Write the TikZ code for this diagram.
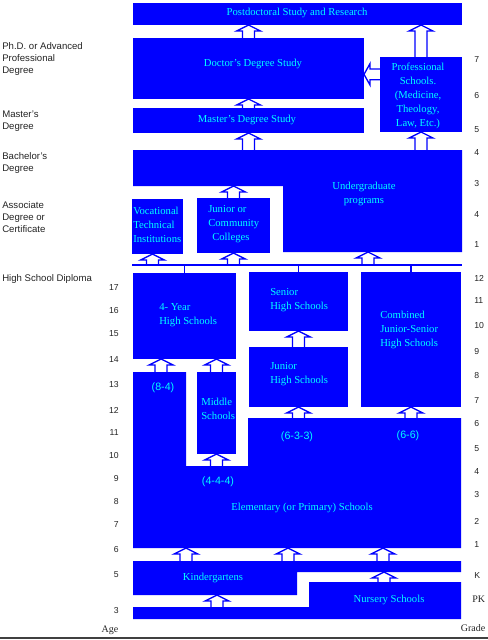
\documentclass[tikz,border=0pt]{standalone}
\usepackage{fontspec}
\setmainfont{Liberation Serif}
\setsansfont{Liberation Sans}
\usepackage{tikz}
\usetikzlibrary{positioning,calc,fit}
\definecolor{schoolblue}{RGB}{0,0,255}
\definecolor{schoolcyan}{RGB}{0,255,255}
\definecolor{axisgray}{RGB}{35,35,35}
\definecolor{rulegray}{RGB}{64,64,64}

\begin{document}
\begin{tikzpicture}[x=0.75pt,y=-0.75pt,
  blk/.style={fill=schoolblue,inner sep=0pt,outer sep=0pt},
  blktext/.style={text=schoolcyan,font=\fontsize{8}{10.4}\selectfont,align=center,inner sep=0pt},
  blknote/.style={text=schoolcyan,font=\sffamily\fontsize{8}{10}\selectfont,inner sep=0pt},
  sidetext/.style={text=axisgray,font=\sffamily\fontsize{7.2}{9}\selectfont,align=left,anchor=west,inner sep=0pt},
  agetext/.style={text=axisgray,font=\sffamily\fontsize{6.5}{8}\selectfont,anchor=east,inner sep=0pt},
  gradetext/.style={agetext,anchor=west},
  axistitle/.style={text=axisgray,font=\fontsize{7.5}{9}\selectfont,inner sep=0pt},
  treeline/.style={draw=schoolblue,line width=1pt},
  blkarrow/.style={draw=schoolblue,line width=1pt,
    to path={let \p1=(\tikztostart),\p2=(\tikztotarget) in
      (\x1-4.5pt,\y1) -- (\x1-4.5pt,\y2-4.5pt) -- (\x1-9pt,\y2-4.5pt) -- (\x1,\y2)
      -- (\x1+9pt,\y2-4.5pt) -- (\x1+4.5pt,\y2-4.5pt) -- (\x1+4.5pt,\y1)}},
  blkarrowleft/.style={draw=schoolblue,line width=1pt,
    to path={let \p1=(\tikztostart),\p2=(\tikztotarget) in
      (\x1,\y1+4pt) -- (\x2+4.5pt,\y1+4pt) -- (\x2+4.5pt,\y1+8pt) -- (\x2,\y1)
      -- (\x2+4.5pt,\y1-8pt) -- (\x2+4.5pt,\y1-4pt) -- (\x1,\y1-4pt)}}
]
\useasboundingbox (0,0) rectangle (488,640);

% graduate level
\node[blk,fit={(133,3) (462,25)}] (postdoc) {};
\node[blktext] (postdoc-t) at (297,13) {Postdoctoral Study and Research};
\node[blk,fit={(133,38) (364,99)}] (doctor) {};
\node[blktext] (doctor-t) at (253,64) {Doctor's Degree Study};
\node[blk,fit={(133,108) (364,133)}] (master) {};
\node[blktext] (master-t) at (247,120) {Master's Degree Study};
\node[blk,fit={(380,57) (462,132)}] (prof) {};
\node[blktext] (prof-t) at (418,96) {Professional\\Schools.\\(Medicine,\\Theology,\\Law, Etc.)};

% undergraduate level
\fill[schoolblue] (133,150) -- (462,150) -- (462,252) -- (283,252) -- (283,186) -- (133,186) -- cycle;
\coordinate (ug-nw) at (133,150);
\coordinate (ug-sw) at (133,186);
\coordinate (ug-in) at (368,252);
\node[blktext] (ug-t) at (364,194) {Undergraduate\\programs};
\node[blk,fit={(132,199) (183,254)}] (voc) {};
\node[blktext,align=left,anchor=west] (voc-t) at (133,225) {Vocational\\Technical\\Institutions};
\node[blk,fit={(197,198) (270,253)}] (jc) {};
\node[blktext,align=left,anchor=west] (jc-t) at (208,224) {Junior or\\Community\\\hspace{3pt}Colleges};

% secondary level
\coordinate (tree-w) at (132,265);
\coordinate (tree-e) at (462,265);
\draw[treeline] (tree-w) -- (tree-e);
\node[blk,fit={(133,273) (236,359)}] (fouryr) {};
\node[blktext,align=left,anchor=west] (fouryr-t) at (159,315) {4- Year\\High Schools};
\node[blk,fit={(249,272) (348,331)}] (shs) {};
\node[blktext,align=left,anchor=west] (shs-t) at (270,300) {Senior\\High Schools};
\node[blk,fit={(361,272) (461,407)}] (comb) {};
\node[blktext,align=left,anchor=west] (comb-t) at (380,330) {Combined\\Junior-Senior\\High Schools};
\node[blk,fit={(249,347) (348,407)}] (jhs) {};
\node[blktext,align=left,anchor=west] (jhs-t) at (270,374) {Junior\\High Schools};
\node[blk,fit={(197,372) (236,454)}] (middle) {};
\node[blktext,align=left,anchor=west] (middle-t) at (201,409) {Middle\\Schools};

% elementary level
\fill[schoolblue] (133,372) -- (186,372) -- (186,466) -- (248,466) -- (248,418) -- (461,418) -- (461,548) -- (133,548) -- cycle;
\coordinate (elem-nw) at (133,372);
\coordinate (elem-mid) at (248,418);
\coordinate (elem-notch) at (186,466);
\coordinate (elem-sw) at (133,548);
\node[blknote] (plan84) at (163,388) {(8-4)};
\node[blknote] (plan444) at (218,482) {(4-4-4)};
\node[blknote] (plan633) at (297,437) {(6-3-3)};
\node[blknote] (plan66) at (408,436) {(6-6)};
\node[blktext] (elem-t) at (302,508) {Elementary (or Primary) Schools};

% preprimary level
\fill[schoolblue] (133,561) -- (461,561) -- (461,572) -- (297,572) -- (297,595) -- (133,595) -- cycle;
\coordinate (kg-nw) at (133,561);
\coordinate (kg-step) at (297,572);
\coordinate (kg-sw) at (133,595);
\node[blktext] (kg-t) at (213,578) {Kindergartens};
\fill[schoolblue] (309,582) -- (461,582) -- (461,619) -- (133,619) -- (133,607) -- (309,607) -- cycle;
\coordinate (nur-nw) at (309,582);
\coordinate (nur-bar) at (133,607);
\node[blktext] (nur-t) at (389,600) {Nursery Schools};

% arrows
\draw[blkarrow] (doctor.north) to (doctor.north |- postdoc.south);
\draw[blkarrow] (master.north) to (doctor.south);
\draw[blkarrow] (master.south |- ug-nw) to (master.south);
\draw[blkarrow] (prof.south |- ug-nw) to (prof.south);
\draw[blkarrow] (prof.north) to (prof.north |- postdoc.south);
\coordinate (prof-out) at ([yshift=-13pt]prof.north west);
\draw[blkarrowleft] (prof-out) to (prof-out -| doctor.east);
\draw[blkarrow] (jc.north) to (jc.north |- ug-sw);
\coordinate (voc-in) at ([xshift=-3.75pt]voc.south);
\draw[blkarrow] (voc-in |- tree-w) to (voc-in);
\draw[blkarrow] (jc.south |- tree-w) to (jc.south);
\draw[blkarrow] (ug-in |- tree-w) to (ug-in);
\foreach \hs in {fouryr,shs,comb}
  \draw[treeline] (\hs.north) -- (\hs.north |- tree-w);
\coordinate (fouryr-in) at ([xshift=-17.6pt]fouryr.south);
\draw[blkarrow] (fouryr-in |- elem-nw) to (fouryr-in);
\draw[blkarrow] (middle.north) to (middle.north |- fouryr.south);
\draw[blkarrow] (jhs.north) to (shs.south);
\draw[blkarrow] (jhs.south |- elem-mid) to (jhs.south);
\draw[blkarrow] (comb.south |- elem-mid) to (comb.south);
\draw[blkarrow] (middle.south |- elem-notch) to (middle.south);
\foreach \dx in {53,155,250}
  \draw[blkarrow] ($(kg-nw)+(\dx,0)$) to ($(elem-sw)+(\dx,0)$);
\draw[blkarrow] ($(nur-bar)+(84,0)$) to ($(kg-sw)+(84,0)$);
\draw[blkarrow] ($(nur-nw)+(75,0)$) to ($(kg-step)+(87,0)$);

% side labels
\node[sidetext] (deg-phd) at (2,59) {Ph.D. or Advanced\\Professional\\Degree};
\node[sidetext] (deg-ma) at (2,121) {Master's\\Degree};
\node[sidetext] (deg-ba) at (2,163) {Bachelor's\\Degree};
\node[sidetext] (deg-as) at (2,217) {Associate\\Degree or\\Certificate};
\node[sidetext] (deg-hs) at (2,279) {High School Diploma};

% ages and grades
\foreach \a/\yy in {17/288,16/311,15/334,14/360,13/385,12/410,11/433,10/456,9/479,8/502,7/525,6/550,5/575,3/611}
  \node[agetext] (age-\a) at (119,\yy) {\a};
\node[axistitle] (age-title) at (110,630) {Age};
\foreach \g/\yy [count=\i] in {7/60,6/96,5/130,4/153,3/184,4/215,1/245,12/278,11/301,10/326,9/352,8/376,7/401,6/424,5/449,4/472,3/495,2/521,1/545,K/576}
  \node[gradetext] (grade-\i) at (474,\yy) {\g};
\node[axistitle,anchor=west] (grade-pk) at (472,599) {PK};
\node[axistitle] (grade-title) at (473,628) {Grade};

\draw[rulegray,line width=1.5pt] (0,638) -- (488,638);
\end{tikzpicture}
\end{document}
